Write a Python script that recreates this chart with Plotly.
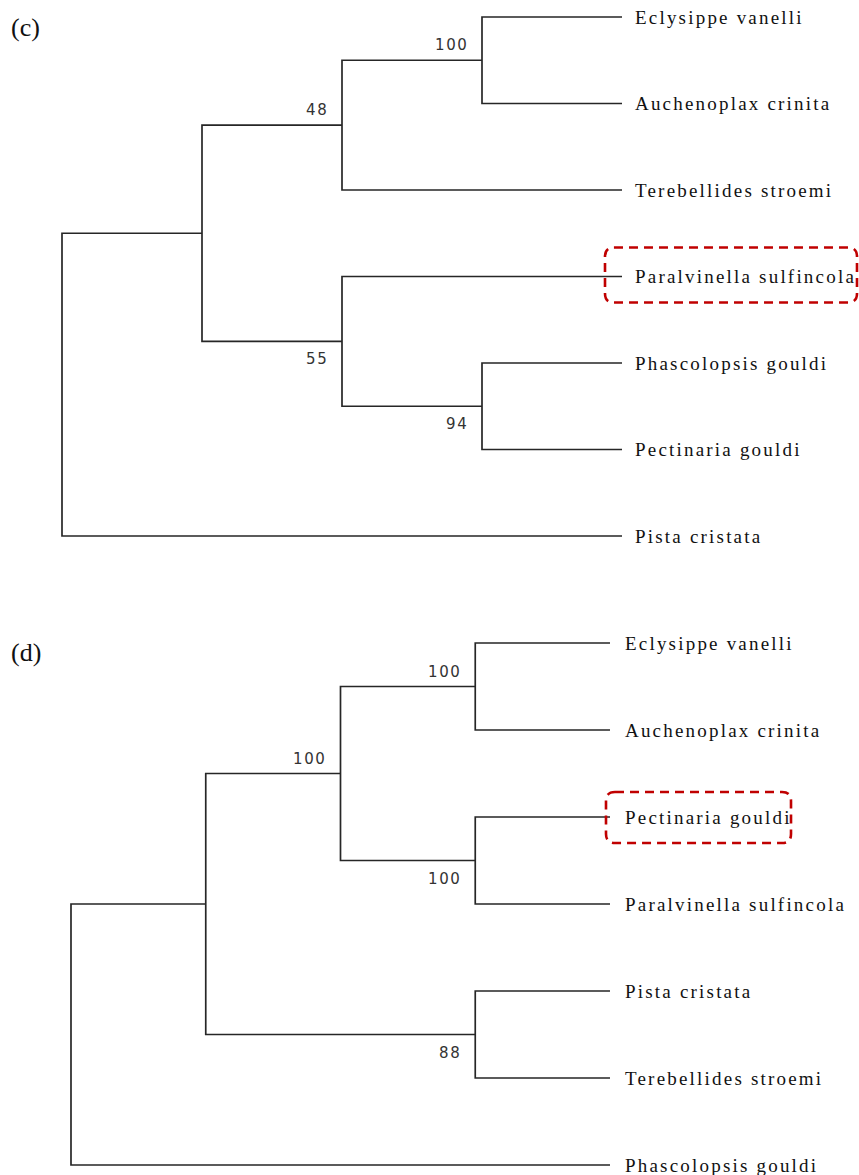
import plotly.graph_objects as go

W, H = 859, 1175

# ---------------- data: panel (c) ----------------
leaves_c = ["Eclysippe vanelli", "Auchenoplax crinita", "Terebellides stroemi",
            "Paralvinella sulfincola", "Phascolopsis gouldi", "Pectinaria gouldi",
            "Pista cristata"]
node_names_c = ["A", "B", "C", "D", "E", "root"]
node_left_c = ["Eclysippe vanelli", "A", "Phascolopsis gouldi", "Paralvinella sulfincola", "B", "E"]
node_right_c = ["Auchenoplax crinita", "Terebellides stroemi", "Pectinaria gouldi", "C", "D", "Pista cristata"]
support_nodes_c = ["A", "B", "D", "C"]
support_values_c = [100, 48, 55, 94]
support_side_c = ["above", "above", "below", "below"]
highlight_c = "Paralvinella sulfincola"

# ---------------- data: panel (d) ----------------
leaves_d = ["Eclysippe vanelli", "Auchenoplax crinita", "Pectinaria gouldi",
            "Paralvinella sulfincola", "Pista cristata", "Terebellides stroemi",
            "Phascolopsis gouldi"]
node_names_d = ["A", "B", "C", "D", "E", "root"]
node_left_d = ["Eclysippe vanelli", "Pectinaria gouldi", "A", "Pista cristata", "C", "E"]
node_right_d = ["Auchenoplax crinita", "Paralvinella sulfincola", "B", "Terebellides stroemi", "D", "Phascolopsis gouldi"]
support_nodes_d = ["A", "C", "B", "D"]
support_values_d = [100, 100, 100, 88]
support_side_d = ["above", "above", "below", "below"]
highlight_d = "Pectinaria gouldi"

panel_labels = ["(c)", "(d)"]

# ---------------- styling / placement constants ----------------
LINE_COLOR = "#262626"
LINE_W = 1.7
LEAF_FONT = dict(family="Liberation Serif, Times New Roman, serif", size=19, color="#111111")
SUP_FONT = dict(family="DejaVu Sans, Verdana, sans-serif", size=15, color="#333333")
PADX = 0.15
PADY = 0.06

# pixel anchors: (x of root level, x of leaf tips, y of first leaf, y of last leaf)
panels = [
    dict(leaves=leaves_c, names=node_names_c, lefts=node_left_c, rights=node_right_c,
         sup_nodes=support_nodes_c, sup_vals=support_values_c, sup_side=support_side_c,
         highlight=highlight_c, px=(62, 622, 17, 536), text_shift=11,
         box=(-17, 235, -29, 26), label=panel_labels[0], label_py=28),
    dict(leaves=leaves_d, names=node_names_d, lefts=node_left_d, rights=node_right_d,
         sup_nodes=support_nodes_d, sup_vals=support_values_d, sup_side=support_side_d,
         highlight=highlight_d, px=(71, 610, 643, 1165), text_shift=13,
         box=(-4, 181, -25, 26), label=panel_labels[1], label_py=652),
]


def layout_tree(leaves, names, lefts, rights):
    y = {leaf: float(i) for i, leaf in enumerate(leaves)}
    h = {leaf: 0 for leaf in leaves}
    for n, l, r in zip(names, lefts, rights):
        y[n] = (y[l] + y[r]) / 2.0
        h[n] = max(h[l], h[r]) + 1
    maxh = max(h.values())
    x = {k: maxh - v for k, v in h.items()}
    return x, y, maxh


def fx(px):
    return px / W


def fy(py):
    return 1 - py / H


fig = go.Figure()
annotations = []
shapes = []

for pi, p in enumerate(panels):
    x, y, maxh = layout_tree(p["leaves"], p["names"], p["lefts"], p["rights"])
    nleaf = len(p["leaves"])
    x0px, x1px, y0px, y1px = p["px"]
    xstep = (x1px - x0px) / maxh
    ystep = (y1px - y0px) / (nleaf - 1)
    xd = [max(0.0, fx(x0px - PADX * xstep)), min(1.0, fx(x1px + PADX * xstep))]
    yd = [max(0.0, fy(y1px + PADY * ystep)), min(1.0, fy(y0px - PADY * ystep))]
    sfx = "" if pi == 0 else str(pi + 1)
    fig.layout["xaxis" + sfx] = dict(domain=xd, range=[-PADX, maxh + PADX], visible=False,
                                     fixedrange=True, anchor="y" + sfx)
    fig.layout["yaxis" + sfx] = dict(domain=yd, range=[nleaf - 1 + PADY, -PADY], visible=False,
                                     fixedrange=True, anchor="x" + sfx)

    # branches
    xs, ys = [], []
    for n, l, r in zip(p["names"], p["lefts"], p["rights"]):
        xs += [x[l], x[n], x[n], x[r], None]
        ys += [y[l], y[l], y[r], y[r], None]
    fig.add_trace(go.Scatter(x=xs, y=ys, mode="lines", xaxis="x" + sfx, yaxis="y" + sfx,
                             line=dict(color=LINE_COLOR, width=LINE_W),
                             hoverinfo="skip", showlegend=False))

    # leaf labels
    for leaf in p["leaves"]:
        annotations.append(dict(
            x=x[leaf], y=y[leaf], xref="x" + sfx, yref="y" + sfx,
            text='<span style="letter-spacing:2.2px">%s</span>' % leaf,
            showarrow=False, xanchor="left", yanchor="middle",
            xshift=p["text_shift"], font=LEAF_FONT))

    # support values
    for n, v, side in zip(p["sup_nodes"], p["sup_vals"], p["sup_side"]):
        annotations.append(dict(
            x=x[n], y=y[n], xref="x" + sfx, yref="y" + sfx,
            text='<span style="letter-spacing:1.6px">%d</span>' % v,
            showarrow=False, xanchor="right", yanchor="middle",
            xshift=-12, yshift=(15 if side == "above" else -18), font=SUP_FONT))

    # panel label
    annotations.append(dict(x=fx(9), y=fy(p["label_py"]), xref="paper", yref="paper",
                            text=p["label"], showarrow=False, xanchor="left", yanchor="middle",
                            font=dict(family="Liberation Serif, Times New Roman, serif",
                                      size=26, color="#111111")))

    # highlight box (rounded, dashed)
    hl = p["highlight"]
    tipx = x0px + x[hl] * xstep
    leafy = y0px + y[hl] * ystep
    bl, br, bt, bb = p["box"]
    L, R, T, B = tipx + bl, tipx + br, leafy + bt, leafy + bb
    rr = 9

    def P(px, py):
        return "%.5f,%.5f" % (fx(px), fy(py))

    path = ("M" + P(L + rr, T) + " L" + P(R - rr, T) + " Q" + P(R, T) + " " + P(R, T + rr) +
            " L" + P(R, B - rr) + " Q" + P(R, B) + " " + P(R - rr, B) +
            " L" + P(L + rr, B) + " Q" + P(L, B) + " " + P(L, B - rr) +
            " L" + P(L, T + rr) + " Q" + P(L, T) + " " + P(L + rr, T) + " Z")
    shapes.append(dict(type="path", xref="paper", yref="paper", path=path,
                       line=dict(color="#c00000", width=2.6, dash="9px,6px")))

fig.update_layout(width=W, height=H, margin=dict(l=0, r=0, t=0, b=0),
                  paper_bgcolor="white", plot_bgcolor="white",
                  annotations=annotations, shapes=shapes, showlegend=False,
                  hovermode=False)

fig.write_html("out.html",
               config={"displayModeBar": False, "staticPlot": True},
               post_script="document.body.style.margin='0';"
                           "document.documentElement.style.overflow='hidden';")
